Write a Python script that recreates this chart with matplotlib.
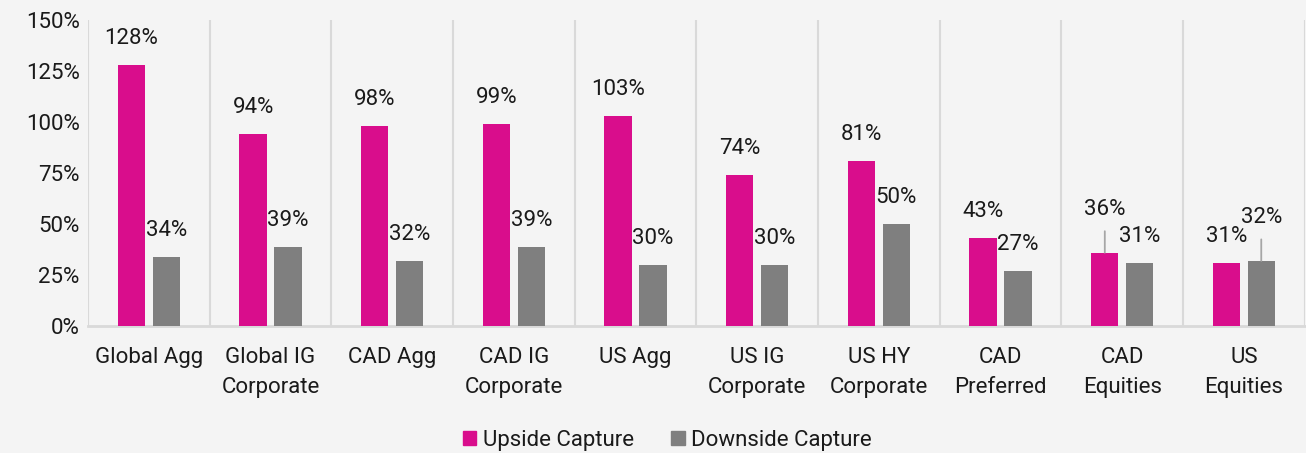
import matplotlib.pyplot as plt
import numpy as np

plt.rcParams['font.family'] = ['Roboto', 'DejaVu Sans']

# Data
categories = ['Global Agg', 'Global IG\nCorporate', 'CAD Agg', 'CAD IG\nCorporate', 'US Agg',
              'US IG\nCorporate', 'US HY\nCorporate', 'CAD\nPreferred', 'CAD\nEquities', 'US\nEquities']
upside = [128, 94, 98, 99, 103, 74, 81, 43, 36, 31]
downside = [34, 39, 32, 39, 30, 30, 50, 27, 31, 32]
series_names = ['Upside Capture', 'Downside Capture']

# Colors
bg = '#f4f4f4'
up_color = '#d90d8c'
down_color = '#7f7f7f'
grid_color = '#d9d9d9'
text_color = '#1a1a1a'
fs = 16

fig = plt.figure(figsize=(13.06, 4.53), dpi=100)
fig.patch.set_facecolor(bg)
ax = fig.add_axes([0.0674, 0.280, 0.9316, 0.676])
ax.set_facecolor(bg)

x = np.arange(len(categories))
w = 0.225
off = 0.143
ax.bar(x - off, upside, w, color=up_color, zorder=3)
ax.bar(x + off, downside, w, color=down_color, zorder=3)

ax.set_xlim(-0.5, len(categories) - 0.5)
ax.set_ylim(0, 150)
ax.set_yticks(np.arange(0, 151, 25))
ax.set_yticklabels([f'{v}%' for v in range(0, 151, 25)], fontsize=fs, color=text_color)
ax.set_xticks(x)
ax.set_xticklabels(categories, fontsize=fs, color=text_color, linespacing=1.55)
ax.tick_params(length=0, pad=6)
ax.tick_params(axis='x', pad=15)

for b in np.arange(-0.5, len(categories), 1.0):
    ax.axvline(b, color=grid_color, lw=1.5, zorder=1)

for s in ['top', 'right', 'left']:
    ax.spines[s].set_visible(False)
ax.spines['bottom'].set_color(grid_color)
ax.spines['bottom'].set_linewidth(2)

# value labels: some lifted with leader lines
lift_up = {8}
lift_down = {9}
for i in range(len(categories)):
    for xv, val, lifted in [(x[i] - off, upside[i], i in lift_up),
                            (x[i] + off, downside[i], i in lift_down)]:
        if lifted:
            ax.annotate(f'{val}%', (xv, val), xytext=(0, 31), textcoords='offset points',
                        ha='center', va='center', fontsize=fs, color=text_color,
                        arrowprops=dict(arrowstyle='-', color='#a6a6a6', lw=1.3, shrinkA=6, shrinkB=0))
        else:
            ax.annotate(f'{val}%', (xv, val), xytext=(0, 19), textcoords='offset points',
                        ha='center', va='center', fontsize=fs, color=text_color)

handles = [plt.Rectangle((0, 0), 1, 1, color=up_color), plt.Rectangle((0, 0), 1, 1, color=down_color)]
fig.legend(handles, series_names, loc='lower center', bbox_to_anchor=(0.511, -0.04), ncol=2,
           frameon=False, fontsize=fs, handlelength=0.6, handleheight=0.6, handletextpad=0.3,
           columnspacing=1.7, labelcolor=text_color)

fig.savefig('out.png', dpi=100, facecolor=bg)
